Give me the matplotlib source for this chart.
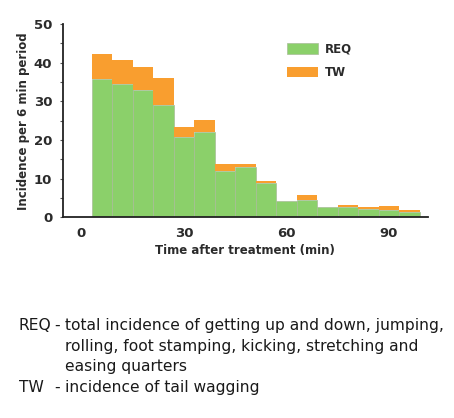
import numpy as np
import matplotlib
matplotlib.use('Agg')
import matplotlib.pyplot as plt
from matplotlib.ticker import MultipleLocator

# 6-min periods, bin centres (min)
time_mid = [6, 12, 18, 24, 30, 36, 42, 48, 54, 60, 66, 72, 78, 84, 90, 96]
req = [35.9, 34.5, 32.9, 29.0, 20.7, 22.2, 12.1, 13.0, 8.8, 4.3, 4.5, 2.6, 2.6, 2.2, 2.0, 1.5]
tw = [6.3, 6.2, 5.9, 7.1, 2.8, 3.0, 1.8, 0.9, 0.6, 0.0, 1.4, 0.0, 0.5, 0.4, 0.9, 0.5]
xticks = [0, 30, 60, 90]

GREEN = '#8bd06a'
ORANGE = '#f99e2f'
TEXT = '#2b2b2b'

fig = plt.figure(figsize=(4.54, 4.18), dpi=100)
ax = fig.add_axes([0.138, 0.4797, 0.805, 0.463])

ax.bar(time_mid, req, width=6, color=GREEN, edgecolor='#a8bc98', linewidth=0.5, label='REQ')
ax.bar(time_mid, tw, width=6, bottom=req, color=ORANGE, edgecolor='none', label='TW')

ax.set_xlim(-5.5, 101.5)
ax.set_ylim(0, 50)
ax.set_xticks(xticks)
ax.yaxis.set_major_locator(MultipleLocator(10))
ax.yaxis.set_minor_locator(MultipleLocator(5))

for s in ['top', 'right']:
    ax.spines[s].set_visible(False)
for s in ['left', 'bottom']:
    ax.spines[s].set_color('#222222')
    ax.spines[s].set_linewidth(1.3)

ax.tick_params(axis='x', length=0, pad=7, labelsize=9.5, labelcolor=TEXT)
ax.tick_params(axis='y', which='both', length=2.5, width=0.8, color='#555555',
               pad=5, labelsize=9.5, labelcolor=TEXT)
for lab in ax.get_xticklabels() + ax.get_yticklabels():
    lab.set_fontweight('bold')

ax.set_xlabel('Time after treatment (min)', fontsize=8.5, fontweight='bold',
              color=TEXT, labelpad=3)
ax.set_ylabel('Incidence per 6 min period', fontsize=8.5, fontweight='bold',
              color=TEXT, labelpad=3)

leg = ax.legend(loc='upper left', bbox_to_anchor=(0.586, 0.96), frameon=False,
                handlelength=2.6, handleheight=1.0, labelspacing=0.9,
                handletextpad=0.55, prop={'weight': 'bold', 'size': 8.5})
for t in leg.get_texts():
    t.set_color(TEXT)

# footnote (positions are baselines in pixels from top)
fs = 11.2
def note(x, y, s):
    fig.text(x / 454, 1 - y / 418, s, fontsize=fs, color='#1a1a1a',
             va='baseline', ha='left')

note(19, 330, 'REQ')
note(54, 330, '-')
note(65, 330, 'total incidence of getting up and down, jumping,')
note(65, 351, 'rolling, foot stamping, kicking, stretching and')
note(65, 371.5, 'easing quarters')
note(19, 392, 'TW')
note(54, 392, '-')
note(65, 392, 'incidence of tail wagging')

fig.savefig('out.png', dpi=100)
